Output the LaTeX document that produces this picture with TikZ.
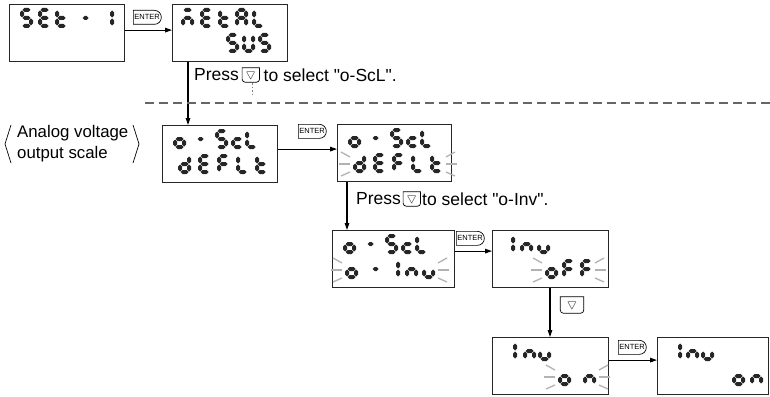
\documentclass[tikz,border=0pt]{standalone}
\usepackage{fontspec}
\setmainfont{Liberation Sans}
\usepackage{amssymb}
\usetikzlibrary{arrows.meta,calc,positioning,shapes.misc}

% seven-segment pieces, cell 13 x 20 (y downwards)
\newcommand\hseg[3]{\fill[segfill] (#1,#3) -- ({#1+2},{#3-2}) -- ({#2-2},{#3-2}) -- (#2,#3) -- ({#2-2},{#3+2}) -- ({#1+2},{#3+2}) -- cycle;}
\newcommand\vseg[3]{\fill[segfill] (#1,#2) -- ({#1+2},{#2+2}) -- ({#1+2},{#3-2}) -- (#1,#3) -- ({#1-2},{#3-2}) -- ({#1-2},{#2+2}) -- cycle;}
\newcommand\lcdsega{\hseg{2.5}{10.5}{2}}
\newcommand\lcdsegb{\vseg{11}{2.5}{9.5}}
\newcommand\lcdsegc{\vseg{11}{10.5}{17.5}}
\newcommand\lcdsegd{\hseg{2.5}{10.5}{18}}
\newcommand\lcdsege{\vseg{2}{10.5}{17.5}}
\newcommand\lcdsegf{\vseg{2}{2.5}{9.5}}
\newcommand\lcdsegg{\hseg{2.5}{10.5}{10}}
\newcommand\lcdsegm{\hseg{3.5}{9.5}{10}}
\newcommand\lcdsegs[1]{\foreach \s in {#1}{\csname lcdseg\s\endcsname}}
\newcommand\lcddefchar[2]{\expandafter\def\csname lcdchar#1\endcsname{\lcdsegs{#2}}}
\lcddefchar{S}{a,f,g,c,d}
\lcddefchar{E}{a,f,g,e,d}
\lcddefchar{t}{f,g,e,d}
\lcddefchar{-}{m}
\lcddefchar{1}{b,c}
\lcddefchar{M}{a,g,e,c}
\lcddefchar{A}{a,b,c,e,f,g}
\lcddefchar{L}{f,e,d}
\lcddefchar{U}{b,c,d,e,f}
\lcddefchar{o}{c,d,e,g}
\lcddefchar{c}{g,e,d}
\lcddefchar{d}{b,c,d,e,g}
\lcddefchar{F}{a,f,g,e}
\lcddefchar{I}{f,e}
\lcddefchar{n}{g,e,c}
\lcddefchar{u}{e,d,c}

% one row of a display: box, row offset, list of x-offset/char
\newcommand\lcdtext[3]{%
  \foreach \cx/\cc in {#3}{%
    \begin{scope}[shift={($(#1.north west)+(\cx,#2)$)}]
      \csname lcdchar\cc\endcsname
    \end{scope}}}

% blinking marks round the second row
\newcommand\lcdblink[3]{%
  \foreach \ax/\ay/\bx/\by in {12/28/3/33, 14/40/3/40, 12/52/3/48}{
    \draw[blinkray] ($(#1.north west)+({#2-\ax},\ay)$) -- ($(#1.north west)+({#2-\bx},\by)$);
    \draw[blinkray] ($(#1.north west)+({#3+\ax},\ay)$) -- ($(#1.north west)+({#3+\bx},\by)$);}}

% outline of the down key
\newcommand\keyframe[1]{%
  \draw[keyline] (#1.north west) -- ([yshift=3pt]#1.south west)
    arc[start angle=180, end angle=90, radius=3] -- ([xshift=-3pt]#1.south east)
    arc[start angle=90, end angle=0, radius=3] -- (#1.north east) -- cycle;}

\begin{document}
\begin{tikzpicture}[x=1pt, y=-1pt,
    lcd/.style={draw=black!85, line width=1.2pt, minimum width=115pt, minimum height=57pt, inner sep=0pt, anchor=north west},
    segfill/.style={black!85},
    blinkray/.style={line width=1.3pt, gray!60},
    enterkey/.style={draw, line width=0.7pt, rounded rectangle, rounded rectangle west arc=none, minimum width=29pt, minimum height=14pt, inner sep=0.5pt, anchor=north west, font=\fontsize{7.5}{8}\selectfont},
    downkey/.style={minimum width=23pt, minimum height=16pt, inner sep=0pt, font=\fontsize{11}{11}\selectfont},
    keyline/.style={line width=0.7pt},
    flow/.style={line width=1.1pt, -{Triangle[length=7pt,width=4.6pt]}},
    note/.style={inner sep=0pt, font=\fontsize{16.8}{21}\selectfont},
    hint/.style={inner sep=0pt, font=\fontsize{17.5}{21}\selectfont},
    bracket/.style={line width=0.7pt}]
\useasboundingbox (0,0) rectangle (770,396);

% displays
\node[lcd] (set) at (9,4) {};
\node[lcd] (metal) at (172,4) {};
\node[lcd] (scl) at (162,125) {};
\node[lcd, minimum width=114pt] (sclb) at (337,124) {};
\node[lcd, minimum width=122pt] (inv) at (332,230) {};
\node[lcd, minimum width=116pt] (off) at (492,230) {};
\node[lcd, minimum width=116pt] (on) at (492,337) {};
\node[lcd, minimum width=111pt] (onset) at (657,337) {};

\lcdtext{set}{4}{11/S, 29/E, 46/t, 70/-, 92/1}
\lcdtext{metal}{4}{9/M, 28/E, 46/t, 63/A, 80/L}
\lcdtext{metal}{29}{54/S, 70/U, 86/S}
\lcdtext{scl}{4}{11/o, 32/-, 53/S, 69/c, 83/L}
\lcdtext{scl}{29}{16/d, 36/E, 55/F, 74/L, 93/t}
\lcdtext{sclb}{4}{11/o, 32/-, 53/S, 69/c, 83/L}
\lcdtext{sclb}{29}{16/d, 36/E, 55/F, 74/L, 93/t}
\lcdblink{sclb}{16}{106}
\lcdtext{inv}{4}{11/o, 32/-, 53/S, 69/c, 83/L}
\lcdtext{inv}{29}{13/o, 37/-, 64/I, 73/n, 90/u}
\lcdblink{inv}{13}{103}
\lcdtext{off}{4}{19/I, 28/n, 45/u}
\lcdtext{off}{29}{53/o, 70/F, 88/F}
\lcdblink{off}{53}{100}
\lcdtext{on}{4}{21/I, 31/n, 46/u}
\lcdtext{on}{29}{66/o, 91/n}
\lcdblink{on}{66}{104}
\lcdtext{onset}{4}{21/I, 29/n, 44/u}
\lcdtext{onset}{29}{75/o, 93/n}

% keys
\node[enterkey] (ent1) at (133,10) {ENTER};
\node[enterkey] (ent2) at (298,124) {ENTER};
\node[enterkey] (ent3) at (456,231) {ENTER};
\node[enterkey] (ent4) at (618,340) {ENTER};
\node[downkey] (down) at (572,305) {$\bigtriangledown$};
\keyframe{down}

% flow
\draw[flow] ([yshift=3pt]set.east) -- ([yshift=3pt]set.east -| metal.west);
\draw[flow] ([xshift=16pt]metal.south west) -- ([xshift=16pt]metal.south west |- scl.north);
\draw[flow] ([yshift=5pt]scl.east) -- ([yshift=5pt]scl.east -| sclb.west);
\draw[flow] ([xshift=10pt]sclb.south west) -- ([xshift=10pt]sclb.south west |- inv.north);
\draw[flow] ([yshift=8pt]inv.east) -- ([yshift=8pt]inv.east -| off.west);
\draw[flow] ([xshift=58pt]off.south west) -- ([xshift=58pt]off.south west |- on.north);
\draw[flow] ([yshift=6pt]on.east) -- ([yshift=6pt]on.east -| onset.west);

% hints
\node[hint, anchor=west] (press1) at (194,75) {Press};
\node[downkey, minimum width=17pt, minimum height=14pt, right=3pt of press1] (dk1) {$\bigtriangledown$};
\keyframe{dk1}
\node[hint, right=4pt of dk1] (sel1) {to select \textquotedbl o-ScL\textquotedbl.};
\draw[gray, line width=1pt, dash pattern=on 1.5pt off 2pt] (252,83) -- (252,97);
\draw[gray!80!black, line width=1.2pt, dash pattern=on 9pt off 5pt] (145,103) -- (770,103);

\node[hint, anchor=west] (press2) at (356,199) {Press};
\node[downkey, minimum width=17pt, minimum height=14pt, right=2pt of press2] (dk2) {$\bigtriangledown$};
\keyframe{dk2}
\node[hint, right=1.5pt of dk2] (sel2) {to select \textquotedbl o-Inv\textquotedbl.};

% parameter name
\node[note, anchor=west, align=left] (label) at (17,144) {Analog voltage\\output scale};
\draw[bracket] (11,125) -- (5,144) -- (11,163);
\draw[bracket] (133,125) -- (139,144) -- (133,163);
\end{tikzpicture}
\end{document}
